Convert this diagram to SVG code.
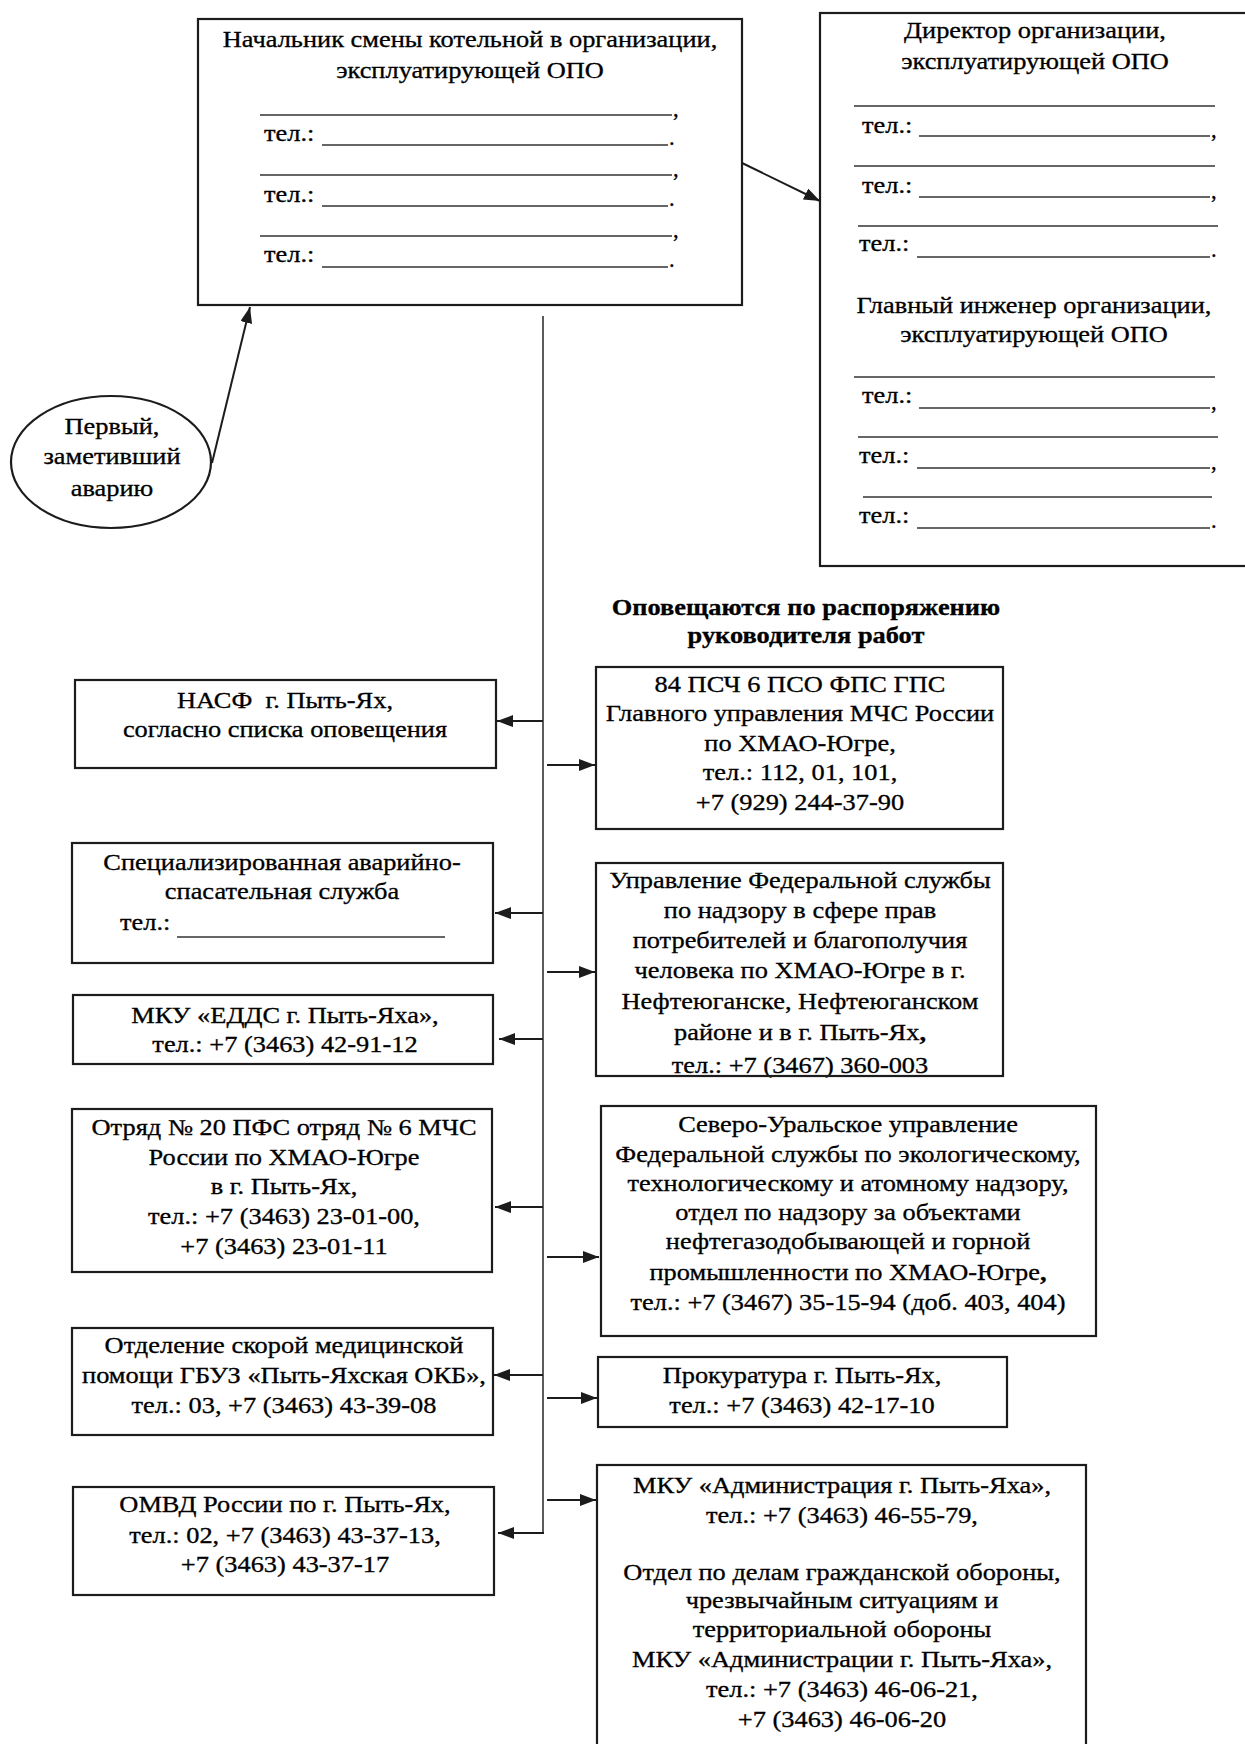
<svg xmlns="http://www.w3.org/2000/svg" width="1245" height="1744" viewBox="0 0 1245 1744">
<defs>
<style>
.box{fill:#fff;stroke:#1c1c1c;stroke-width:2.2}
.ul{stroke:#333;stroke-width:1.4}
.t{font-family:"Liberation Serif","Times New Roman",serif;font-size:22.6px;fill:#000;stroke:#000;stroke-width:0.3}
.c{text-anchor:middle}
.b{font-weight:bold}
.con{stroke:#1c1c1c;stroke-width:2;fill:none}
.trunk{stroke:#333;stroke-width:1.6;fill:none}
</style>
<marker id="ah" markerWidth="16" markerHeight="12" refX="16" refY="6" orient="auto" markerUnits="userSpaceOnUse">
<path d="M0,0 L16,6 L0,12 z" fill="#1c1c1c"/>
</marker>
</defs>
<rect x="0" y="0" width="1245" height="1744" fill="#fff"/>

<g id="connectors">
<line class="con" x1="212" y1="463" x2="250" y2="307" marker-end="url(#ah)"/>
<line class="con" x1="742" y1="163" x2="820" y2="201" marker-end="url(#ah)"/>
<line class="trunk" x1="543" y1="316" x2="543" y2="1533"/>
<line class="con" x1="543" y1="721" x2="497" y2="721" marker-end="url(#ah)"/>
<line class="con" x1="543" y1="913" x2="495" y2="913" marker-end="url(#ah)"/>
<line class="con" x1="543" y1="1039" x2="499" y2="1039" marker-end="url(#ah)"/>
<line class="con" x1="543" y1="1207" x2="495" y2="1207" marker-end="url(#ah)"/>
<line class="con" x1="543" y1="1375" x2="494" y2="1375" marker-end="url(#ah)"/>
<line class="con" x1="544" y1="1533" x2="498" y2="1533" marker-end="url(#ah)"/>
<line class="con" x1="547" y1="765" x2="595" y2="765" marker-end="url(#ah)"/>
<line class="con" x1="547" y1="972" x2="595" y2="972" marker-end="url(#ah)"/>
<line class="con" x1="547" y1="1257" x2="599" y2="1257" marker-end="url(#ah)"/>
<line class="con" x1="547" y1="1398" x2="597" y2="1398" marker-end="url(#ah)"/>
<line class="con" x1="547" y1="1500" x2="596" y2="1500" marker-end="url(#ah)"/>
</g>

<g id="shift-chief">
<rect class="box" x="198" y="19" width="544" height="286"/>
<text class="t c" transform="translate(470 0) scale(1.168 1)"><tspan x="0" y="47">Начальник смены котельной в организации,</tspan><tspan x="0" y="78">эксплуатирующей ОПО</tspan></text>
<line class="ul" x1="260" y1="115" x2="672" y2="115"/>
<text class="t" x="673" y="116">,</text>
<text class="t" transform="translate(264 0) scale(1.168 1)" x="0" y="141">тел.:</text>
<line class="ul" x1="322" y1="145" x2="668" y2="145"/>
<text class="t" x="669" y="145">.</text>
<line class="ul" x1="260" y1="175" x2="672" y2="175"/>
<text class="t" x="673" y="176">,</text>
<text class="t" transform="translate(264 0) scale(1.168 1)" x="0" y="202">тел.:</text>
<line class="ul" x1="322" y1="206" x2="668" y2="206"/>
<text class="t" x="669" y="206">.</text>
<line class="ul" x1="260" y1="236" x2="672" y2="236"/>
<text class="t" x="673" y="237">,</text>
<text class="t" transform="translate(264 0) scale(1.168 1)" x="0" y="262">тел.:</text>
<line class="ul" x1="322" y1="267" x2="668" y2="267"/>
<text class="t" x="669" y="267">.</text>
</g>

<g id="director">
<rect class="box" x="820" y="13" width="460" height="553"/>
<text class="t c" transform="translate(1035 0) scale(1.168 1)"><tspan x="0" y="38">Директор организации,</tspan><tspan x="0" y="69">эксплуатирующей ОПО</tspan></text>
<line class="ul" x1="854" y1="106" x2="1215" y2="106"/>
<text class="t" transform="translate(862 0) scale(1.168 1)" x="0" y="133">тел.:</text>
<line class="ul" x1="919" y1="136" x2="1210" y2="136"/>
<text class="t" x="1211" y="137">,</text>
<line class="ul" x1="854" y1="166" x2="1215" y2="166"/>
<text class="t" transform="translate(862 0) scale(1.168 1)" x="0" y="193">тел.:</text>
<line class="ul" x1="919" y1="197" x2="1210" y2="197"/>
<text class="t" x="1211" y="198">,</text>
<line class="ul" x1="858" y1="226" x2="1218" y2="226"/>
<text class="t" transform="translate(859 0) scale(1.168 1)" x="0" y="251">тел.:</text>
<line class="ul" x1="917" y1="257" x2="1210" y2="257"/>
<text class="t" x="1211" y="257">.</text>
<text class="t c" transform="translate(1034 0) scale(1.168 1)"><tspan x="0" y="313">Главный инженер организации,</tspan><tspan x="0" y="342">эксплуатирующей ОПО</tspan></text>
<line class="ul" x1="854" y1="377" x2="1215" y2="377"/>
<text class="t" transform="translate(862 0) scale(1.168 1)" x="0" y="403">тел.:</text>
<line class="ul" x1="919" y1="408" x2="1210" y2="408"/>
<text class="t" x="1211" y="409">,</text>
<line class="ul" x1="858" y1="437" x2="1218" y2="437"/>
<text class="t" transform="translate(859 0) scale(1.168 1)" x="0" y="463">тел.:</text>
<line class="ul" x1="917" y1="468" x2="1210" y2="468"/>
<text class="t" x="1211" y="469">,</text>
<line class="ul" x1="863" y1="497" x2="1212" y2="497"/>
<text class="t" transform="translate(859 0) scale(1.168 1)" x="0" y="523">тел.:</text>
<line class="ul" x1="917" y1="528" x2="1210" y2="528"/>
<text class="t" x="1211" y="528">.</text>
</g>

<g id="first-witness">
<ellipse class="box" cx="111" cy="462" rx="100" ry="66"/>
<text class="t c" transform="translate(112 0) scale(1.168 1)"><tspan x="0" y="434">Первый,</tspan><tspan x="0" y="464">заметивший</tspan><tspan x="0" y="496">аварию</tspan></text>
</g>

<g id="heading">
<text class="t c b" transform="translate(806 0) scale(1.168 1)"><tspan x="0" y="615">Оповещаются по распоряжению</tspan><tspan x="0" y="643">руководителя работ</tspan></text>
</g>

<g id="nasf">
<rect class="box" x="75" y="680" width="421" height="88"/>
<text class="t c" transform="translate(285 0) scale(1.168 1)" xml:space="preserve"><tspan x="0" y="708">НАСФ  г. Пыть-Ях,</tspan><tspan x="0" y="737">согласно списка оповещения</tspan></text>
</g>

<g id="rescue-service">
<rect class="box" x="72" y="843" width="421" height="120"/>
<text class="t c" transform="translate(282 0) scale(1.168 1)"><tspan x="0" y="870">Специализированная аварийно-</tspan><tspan x="0" y="899">спасательная служба</tspan></text>
<text class="t" transform="translate(120 0) scale(1.168 1)" x="0" y="930">тел.:</text>
<line class="ul" x1="177" y1="937" x2="445" y2="937"/>
</g>

<g id="edds">
<rect class="box" x="73" y="995" width="420" height="69"/>
<text class="t c" transform="translate(285 0) scale(1.168 1)"><tspan x="0" y="1023">МКУ «ЕДДС г. Пыть-Яха»,</tspan><tspan x="0" y="1052">тел.: +7 (3463) 42-91-12</tspan></text>
</g>

<g id="fire-detachment">
<rect class="box" x="72" y="1109" width="420" height="163"/>
<text class="t c" transform="translate(284 0) scale(1.168 1)"><tspan x="0" y="1135">Отряд № 20 ПФС отряд № 6 МЧС</tspan><tspan x="0" y="1165">России по ХМАО-Югре</tspan><tspan x="0" y="1194">в г. Пыть-Ях,</tspan><tspan x="0" y="1224">тел.: +7 (3463) 23-01-00,</tspan><tspan x="0" y="1254">+7 (3463) 23-01-11</tspan></text>
</g>

<g id="ambulance">
<rect class="box" x="72" y="1328" width="421" height="107"/>
<text class="t c" transform="translate(284 0) scale(1.168 1)"><tspan x="0" y="1353">Отделение скорой медицинской</tspan><tspan x="0" y="1383">помощи ГБУЗ «Пыть-Яхская ОКБ»,</tspan><tspan x="0" y="1413">тел.: 03, +7 (3463) 43-39-08</tspan></text>
</g>

<g id="police">
<rect class="box" x="73" y="1487" width="421" height="108"/>
<text class="t c" transform="translate(285 0) scale(1.168 1)"><tspan x="0" y="1512">ОМВД России по г. Пыть-Ях,</tspan><tspan x="0" y="1543">тел.: 02, +7 (3463) 43-37-13,</tspan><tspan x="0" y="1572">+7 (3463) 43-37-17</tspan></text>
</g>

<g id="fire-station-84">
<rect class="box" x="596" y="667" width="407" height="162"/>
<text class="t c" transform="translate(800 0) scale(1.168 1)"><tspan x="0" y="692">84 ПСЧ 6 ПСО ФПС ГПС</tspan><tspan x="0" y="721.5">Главного управления МЧС России</tspan><tspan x="0" y="751">по ХМАО-Югре,</tspan><tspan x="0" y="780.5">тел.: 112, 01, 101,</tspan><tspan x="0" y="810">+7 (929) 244-37-90</tspan></text>
</g>

<g id="rospotrebnadzor">
<rect x="596" y="863" width="407" height="213" fill="#fff"/>
<text class="t c" transform="translate(800 0) scale(1.168 1)"><tspan x="0" y="888">Управление Федеральной службы</tspan><tspan x="0" y="918">по надзору в сфере прав</tspan><tspan x="0" y="948">потребителей и благополучия</tspan><tspan x="0" y="978">человека по ХМАО-Югре в г.</tspan><tspan x="0" y="1009">Нефтеюганске, Нефтеюганском</tspan><tspan x="0" y="1040">районе и в г. Пыть-Ях<tspan class="b">,</tspan></tspan><tspan x="0" y="1073">тел.: +7 (3467) 360-003</tspan></text>
<rect x="596" y="863" width="407" height="213" fill="none" stroke="#1c1c1c" stroke-width="2.2"/>
</g>

<g id="rostekhnadzor">
<rect class="box" x="601" y="1106" width="495" height="230"/>
<text class="t c" transform="translate(848 0) scale(1.168 1)"><tspan x="0" y="1132">Северо-Уральское управление</tspan><tspan x="0" y="1162">Федеральной службы по экологическому,</tspan><tspan x="0" y="1191">технологическому и атомному надзору,</tspan><tspan x="0" y="1220">отдел по надзору за объектами</tspan><tspan x="0" y="1249">нефтегазодобывающей и горной</tspan><tspan x="0" y="1280">промышленности по ХМАО-Югре<tspan class="b">,</tspan></tspan><tspan x="0" y="1310">тел.: +7 (3467) 35-15-94 (доб. 403, 404)</tspan></text>
</g>

<g id="prosecutor">
<rect class="box" x="598" y="1357" width="409" height="70"/>
<text class="t c" transform="translate(802 0) scale(1.168 1)"><tspan x="0" y="1383">Прокуратура г. Пыть-Ях,</tspan><tspan x="0" y="1413">тел.: +7 (3463) 42-17-10</tspan></text>
</g>

<g id="administration">
<rect class="box" x="597" y="1465" width="489" height="300"/>
<text class="t c" transform="translate(842 0) scale(1.168 1)"><tspan x="0" y="1493">МКУ «Администрация г. Пыть-Яха»,</tspan><tspan x="0" y="1523">тел.: +7 (3463) 46-55-79,</tspan><tspan x="0" y="1580">Отдел по делам гражданской обороны,</tspan><tspan x="0" y="1608">чрезвычайным ситуациям и</tspan><tspan x="0" y="1637">территориальной обороны</tspan><tspan x="0" y="1667">МКУ «Администрации г. Пыть-Яха»,</tspan><tspan x="0" y="1697">тел.: +7 (3463) 46-06-21,</tspan><tspan x="0" y="1727">+7 (3463) 46-06-20</tspan></text>
</g>
</svg>
